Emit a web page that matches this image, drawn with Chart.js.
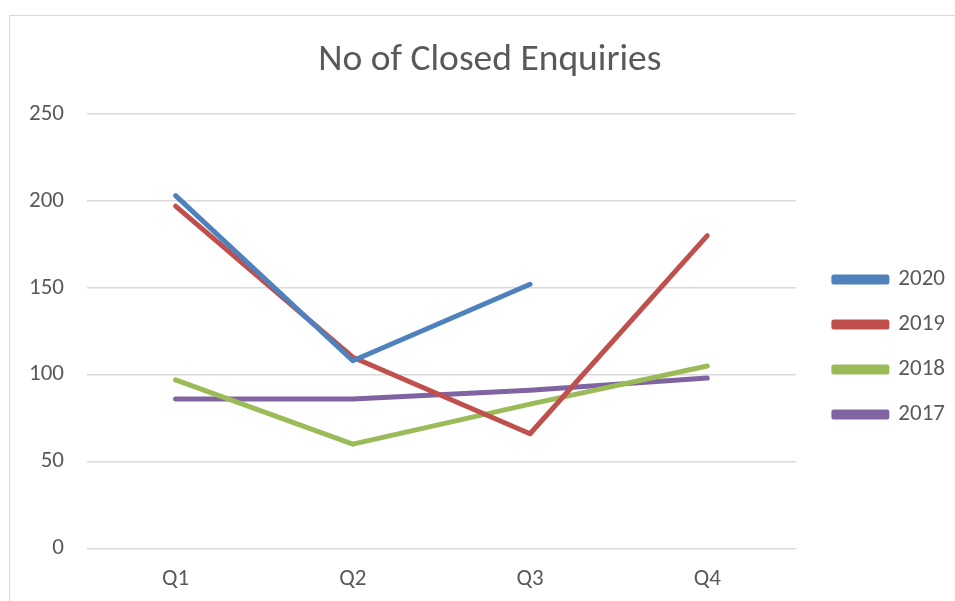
<!DOCTYPE html>
<html>
<head>
<meta charset="utf-8">
<script src="https://cdn.jsdelivr.net/npm/chart.js@4/dist/chart.umd.min.js"></script>
<style>
  html, body { margin: 0; padding: 0; background: #fff; }
  #wrap { position: relative; width: 955px; height: 601px; }
  #frame { position: absolute; left: 9px; top: 15px; right: 0; bottom: 0;
           border-left: 1px solid #d9d9d9; border-top: 1px solid #d9d9d9; }
  canvas { position: absolute; left: 0; top: 0; }
</style>
</head>
<body>
<div id="wrap">
  <div id="frame"></div>
  <canvas id="myChart" width="955" height="601"></canvas>
</div>
<script>
// 데이터
var quarters = ['Q1', 'Q2', 'Q3', 'Q4'];
var y2020 = [203, 108, 152, null];
var y2019 = [197, 110, 66, 180];
var y2018 = [97, 60, 83, 105];
var y2017 = [86, 86, 91, 98];
var yTicks = [0, 50, 100, 150, 200, 250];

var grey = '#595959';
var font = 'Calibri, Carlito, "Liberation Sans", "Noto Sans", sans-serif';

function series(label, data, color) {
    return {
        label: label,
        data: data,
        borderColor: color,
        backgroundColor: color,
        borderWidth: 5,
        borderCapStyle: 'round',
        borderJoinStyle: 'round',
        pointRadius: 0,
        tension: 0,
        spanGaps: false
    };
}

var ctx = document.getElementById('myChart').getContext('2d');
var chart = new Chart(ctx, {
    type: 'line',
    data: {
        labels: quarters,
        datasets: [
            series('2020', y2020, '#4f81bd'),
            series('2019', y2019, '#c0504d'),
            series('2018', y2018, '#9bbb59'),
            series('2017', y2017, '#8064a2')
        ]
    },
    options: {
        responsive: false,
        animation: false,
        layout: { padding: { left: 6, right: 0, top: 38, bottom: -9 } },
        plugins: {
            title: {
                display: true,
                text: '\u2002No of Closed Enquiries',   // 살짝 오른쪽으로
                color: grey,
                font: { family: font, size: 37.5, weight: 'normal' },
                padding: { top: 0, bottom: 31 }
            },
            legend: {
                position: 'right',
                align: 'center',
                title: { display: true, text: ' ', font: { size: 10 }, padding: 17 },
                labels: {
                    color: grey,
                    font: { family: font, size: 23 },
                    boxWidth: 53,
                    boxHeight: 5,
                    padding: 22
                }
            },
            tooltip: { enabled: false }
        },
        scales: {
            x: {
                offset: true,
                grid: { display: false, drawTicks: false },
                border: { display: false },
                ticks: { color: grey, font: { family: font, size: 23 }, padding: 17 }
            },
            y: {
                min: 0,
                max: 250,
                afterBuildTicks: function(axis) {
                    axis.ticks = yTicks.map(function(v) { return { value: v }; });
                },
                grid: { color: '#d9d9d9', lineWidth: 1.5, drawTicks: false },
                border: { display: false },
                ticks: { color: grey, font: { family: font, size: 23 }, padding: 23 }
            },
            // 오른쪽 여백용 빈 축
            gap: {
                position: 'right',
                display: true,
                grid: { display: false },
                border: { display: false },
                ticks: { display: false },
                afterFit: function(axis) { axis.width = 16; }
            }
        }
    }
});
</script>
</body>
</html>
